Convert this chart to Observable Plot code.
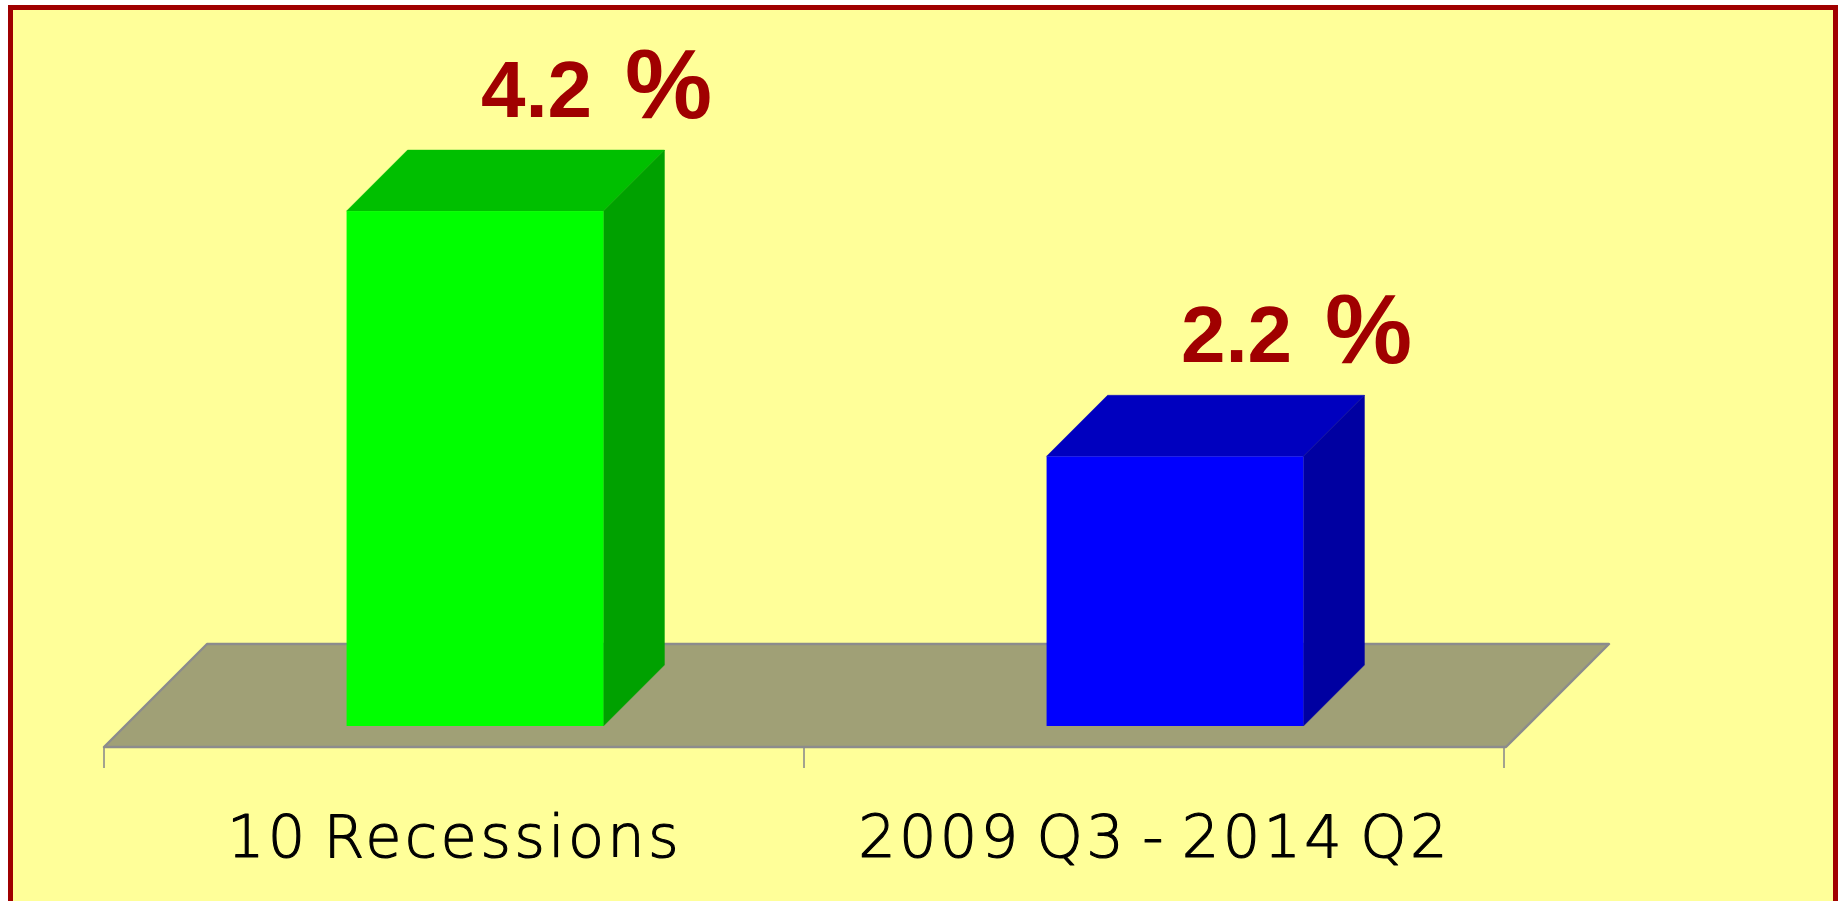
<!DOCTYPE html>
<html>
<head>
<meta charset="utf-8">
<script src="https://cdn.jsdelivr.net/npm/d3@7"></script>
<script src="https://cdn.jsdelivr.net/npm/@observablehq/plot@0.6"></script>
<style>
  html, body { margin: 0; padding: 0; background: #ffffff; overflow: hidden; width: 1839px; height: 901px; }
  #frame { position: absolute; left: 8px; top: 5px; width: 1830px; height: 1000px; box-sizing: border-box;
           border: 5px solid #a00000; background: #ffff99; }
  #chart { position: absolute; left: 0; top: 0; width: 1839px; height: 901px; }
  .cat-label text { letter-spacing: 3.3px; word-spacing: -7px; }
</style>
</head>
<body>
<div id="frame"></div>
<div id="chart"></div>
<script>
// ---- data ----
const categories = ["10 Recessions", "2009 Q3 - 2014 Q2"];
const values = [4.2, 2.2];
const barColors = ["#00ff00", "#0000ff"];
const valueUnit = "%";

const data = categories.map((c, i) => ({category: c, value: values[i]}));

// ---- layout / style constants ----
const W = 1839, H = 901;
const M = {left: 104.4, right: 334.4, top: 113, bottom: 175};
const FRONT_GAP = 21;     // depth from floor front edge to bar front face (px)
const BAR_DEPTH = 61;     // bar depth (px)
const FLOOR_DEPTH = 103;  // floor depth (px)
const BAR_FRAC = 0.367;   // bar width as fraction of band
const TICK_LEN = 21;
const bandW = (W - M.left - M.right) / categories.length;
const insetL = bandW * (1 - BAR_FRAC) / 2 + FRONT_GAP;
const insetR = bandW * (1 - BAR_FRAC) / 2 - FRONT_GAP;

function shade(c, k) {
  const r = d3.rgb(c);
  return d3.rgb(r.r * k, r.g * k, r.b * k).formatHex();
}

// floor plane + ticks drawn from the band scale
function floorMark(index, scales) {
  const x = scales.x, y = scales.y, bw = x.bandwidth();
  const x0 = x(categories[0]);
  const x1 = x(categories[categories.length - 1]) + bw;
  const yf = y(0) + FRONT_GAP;
  const g = d3.create("svg:g");
  g.append("polygon")
    .attr("points", [[x0, yf], [x1 + 2, yf], [x1 + 2 + FLOOR_DEPTH, yf - FLOOR_DEPTH], [x0 + FLOOR_DEPTH, yf - FLOOR_DEPTH]].join(" "))
    .attr("fill", "#a0a076")
    .attr("stroke", "#8c8c8c")
    .attr("stroke-width", 2.4)
    .attr("stroke-linejoin", "round");
  const ticks = [...categories.map(c => x(c)), x1];
  g.selectAll("line").data(ticks).join("line")
    .attr("x1", d => d).attr("x2", d => d)
    .attr("y1", yf).attr("y2", yf + TICK_LEN)
    .attr("stroke", "#8c8c8c").attr("stroke-width", 1.6);
  return g.node();
}

// top and side faces of each bar
function barFaces(index, scales) {
  const x = scales.x, y = scales.y, bw = x.bandwidth();
  const g = d3.create("svg:g");
  const D = BAR_DEPTH;
  for (const d of data) {
    const l = x(d.category) + insetL;
    const r = x(d.category) + bw - insetR;
    const t = y(d.value), b = y(0);
    const c = scales.color(d.category);
    g.append("polygon")
      .attr("points", [[l, t], [r, t], [r + D, t - D], [l + D, t - D]].join(" "))
      .attr("fill", shade(c, 0.75)).attr("stroke", shade(c, 0.75)).attr("stroke-width", 0.5);
    g.append("polygon")
      .attr("points", [[r, t], [r + D, t - D], [r + D, b - D], [r, b]].join(" "))
      .attr("fill", shade(c, 0.63)).attr("stroke", shade(c, 0.63)).attr("stroke-width", 0.5);
  }
  return g.node();
}

const fmt = d3.format(".1f");

const chart = Plot.plot({
  width: W,
  height: H,
  marginLeft: M.left,
  marginRight: M.right,
  marginTop: M.top,
  marginBottom: M.bottom,
  style: {background: "transparent", overflow: "visible"},
  x: {type: "band", domain: categories, padding: 0, axis: null},
  y: {domain: [0, 5], axis: null},
  color: {domain: categories, range: barColors},
  marks: [
    floorMark,
    barFaces,
    Plot.barY(data, {x: "category", y: "value", fill: "category", insetLeft: insetL, insetRight: insetR}),
    Plot.text(data, {
      x: "category", y: "value", text: d => fmt(d.value),
      dx: 82, dy: -95, lineAnchor: "bottom",
      fontSize: 80, fontWeight: "bold", fill: "#a00000",
      fontFamily: "'Liberation Sans', Arial, sans-serif"
    }),
    Plot.text(data, {
      x: "category", y: "value", text: () => valueUnit,
      dx: 214, dy: -94, lineAnchor: "bottom",
      fontSize: 98, fontWeight: "bold", fill: "#a00000",
      fontFamily: "'Liberation Sans', Arial, sans-serif"
    }),
    Plot.text(data, {
      x: "category", y: () => 0, text: "category",
      dy: 130, lineAnchor: "bottom",
      fontSize: 59, fontWeight: 200, fill: "#000000",
      stroke: "#000000", strokeWidth: 1.1,
      fontFamily: "'DejaVu Sans', sans-serif",
      className: "cat-label"
    })
  ]
});

document.getElementById("chart").appendChild(chart);
</script>
</body>
</html>
